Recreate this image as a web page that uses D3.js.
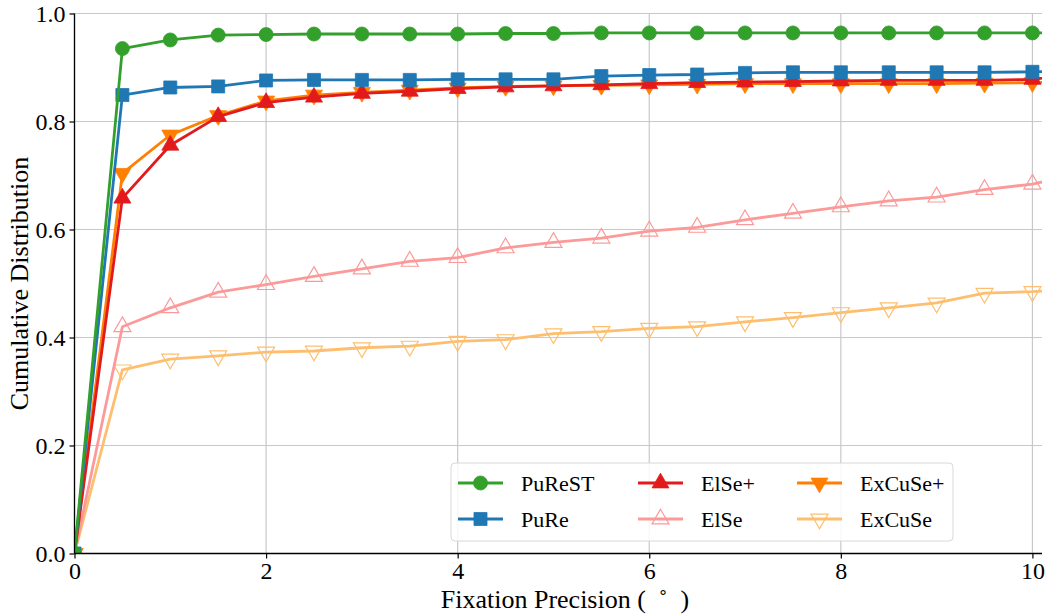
<!DOCTYPE html>
<html>
<head>
<meta charset="utf-8">
<script src="https://cdn.jsdelivr.net/npm/d3@7"></script>
<style>
  html, body { margin: 0; padding: 0; background: #fff; }
  svg { display: block; font-family: "Liberation Serif", "Times New Roman", serif; }
</style>
</head>
<body>
<svg id="chart" width="1048" height="614"></svg>
<script>
// ---- data ----
const xValues = [0, 0.5, 1, 1.5, 2, 2.5, 3, 3.5, 4, 4.5, 5, 5.5, 6, 6.5, 7, 7.5, 8, 8.5, 9, 9.5, 10, 10.5];
const purestValues = [0, 0.935, 0.951, 0.960, 0.961, 0.962, 0.962, 0.962, 0.962, 0.963, 0.963, 0.964, 0.964, 0.964, 0.964, 0.964, 0.964, 0.964, 0.964, 0.964, 0.964, 0.964];
const pureValues = [0, 0.849, 0.863, 0.865, 0.876, 0.877, 0.877, 0.877, 0.878, 0.878, 0.878, 0.884, 0.886, 0.887, 0.890, 0.891, 0.891, 0.891, 0.891, 0.891, 0.892, 0.893];
const elsePlusValues = [0, 0.658, 0.756, 0.809, 0.835, 0.845, 0.852, 0.856, 0.861, 0.864, 0.866, 0.868, 0.870, 0.872, 0.873, 0.874, 0.875, 0.876, 0.876, 0.876, 0.878, 0.890];
const elseValues = [0, 0.420, 0.455, 0.484, 0.498, 0.513, 0.527, 0.541, 0.548, 0.566, 0.576, 0.584, 0.597, 0.604, 0.618, 0.630, 0.642, 0.653, 0.660, 0.674, 0.684, 0.704];
const excusePlusValues = [0, 0.704, 0.775, 0.811, 0.838, 0.849, 0.854, 0.858, 0.862, 0.865, 0.866, 0.867, 0.868, 0.869, 0.870, 0.870, 0.870, 0.870, 0.870, 0.871, 0.872, 0.875];
const excuseValues = [0, 0.340, 0.360, 0.366, 0.373, 0.375, 0.381, 0.384, 0.393, 0.396, 0.407, 0.411, 0.417, 0.420, 0.429, 0.437, 0.446, 0.455, 0.464, 0.482, 0.485, 0.490];
const xTicks = [0, 2, 4, 6, 8, 10];
const yTicks = [0.0, 0.2, 0.4, 0.6, 0.8, 1.0];
const xLabel = "Fixation Precision (\u2002\u02DA\u2002)";
const yLabel = "Cumulative Distribution";

// series definitions (legend order)
const series = [
  { name: "PuReST", values: purestValues, color: "#33a02c", symbol: "circle", filled: true },
  { name: "PuRe", values: pureValues, color: "#1f78b4", symbol: "square", filled: true },
  { name: "ElSe+", values: elsePlusValues, color: "#e31a1c", symbol: "up", filled: true },
  { name: "ElSe", values: elseValues, color: "#fb9a99", symbol: "up", filled: false },
  { name: "ExCuSe+", values: excusePlusValues, color: "#ff7f00", symbol: "down", filled: true },
  { name: "ExCuSe", values: excuseValues, color: "#fdbf6f", symbol: "down", filled: false }
];
const drawOrder = ["ExCuSe", "ElSe", "ExCuSe+", "ElSe+", "PuRe", "PuReST"];

// ---- layout ----
const svg = d3.select("#chart");
const x = d3.scaleLinear().domain([0, 10.1]).range([74.5, 1042]);
const y = d3.scaleLinear().domain([0, 1]).range([553.5, 13.5]);
const TICK_FONT = 24;
const LABEL_FONT = 26;
const LEGEND_FONT = 22;

// grid
const grid = svg.append("g").attr("class", "grid");
grid.selectAll("line.gx").data(xTicks).enter().append("line")
  .attr("x1", d => x(d)).attr("x2", d => x(d))
  .attr("y1", y(0)).attr("y2", y(1))
  .attr("stroke", "#c8c8c8").attr("stroke-width", 1.2);
grid.selectAll("line.gy").data(yTicks).enter().append("line")
  .attr("x1", x(0)).attr("x2", x(10.1))
  .attr("y1", d => y(d)).attr("y2", d => y(d))
  .attr("stroke", "#c8c8c8").attr("stroke-width", 1.2);

// clip
svg.append("clipPath").attr("id", "plotclip").append("rect")
  .attr("x", x(0)).attr("y", y(1) - 12)
  .attr("width", x(10.1) - x(0)).attr("height", y(0) - y(1) + 12);

function symbolPath(kind, size) {
  if (kind === "circle") return d3.symbol(d3.symbolCircle, size)();
  if (kind === "square") return d3.symbol(d3.symbolSquare, size)();
  return d3.symbol(d3.symbolTriangle, size)();
}
const symSize = { circle: 155, square: 170, up: 125, down: 125 };

const plot = svg.append("g").attr("clip-path", "url(#plotclip)");
const line = d3.line().x((d, i) => x(xValues[i])).y(d => y(d));

drawOrder.forEach(nm => {
  const s = series.find(t => t.name === nm);
  const g = plot.append("g");
  g.append("path").datum(s.values)
    .attr("d", line)
    .attr("fill", "none")
    .attr("stroke", s.color)
    .attr("stroke-width", 2.8)
    .attr("stroke-linejoin", "round");
  g.selectAll("path.m").data(s.values).enter().append("path")
    .attr("class", "m")
    .attr("d", symbolPath(s.symbol, symSize[s.symbol]))
    .attr("transform", (d, i) => `translate(${x(xValues[i])},${y(d)})` + (s.symbol === "down" ? " rotate(180)" : ""))
    .attr("fill", s.filled ? s.color : "none")
    .attr("stroke", s.color)
    .attr("stroke-width", s.filled ? 0.8 : 1.2);
});

// spines
svg.append("line").attr("x1", x(0)).attr("x2", x(0)).attr("y1", y(0)).attr("y2", y(1))
  .attr("stroke", "#000").attr("stroke-width", 1.3);
svg.append("line").attr("x1", x(0)).attr("x2", x(10.1)).attr("y1", y(0)).attr("y2", y(0))
  .attr("stroke", "#000").attr("stroke-width", 1.3);

// axes
const xAxis = d3.axisBottom(x).tickValues(xTicks).tickFormat(d3.format("d")).tickSize(5).tickPadding(3);
const gx = svg.append("g").attr("transform", `translate(0,${y(0)})`).call(xAxis);
gx.select(".domain").remove();
gx.selectAll("text").attr("font-size", TICK_FONT).attr("fill", "#000").attr("font-family", "Liberation Serif");
gx.selectAll("line").attr("stroke", "#000").attr("stroke-width", 1.2);

const yAxis = d3.axisLeft(y).tickValues(yTicks).tickFormat(d3.format(".1f")).tickSize(5).tickPadding(4);
const gy = svg.append("g").attr("transform", `translate(${x(0)},0)`).call(yAxis);
gy.select(".domain").remove();
gy.selectAll("text").attr("font-size", TICK_FONT).attr("fill", "#000").attr("font-family", "Liberation Serif");
gy.selectAll("line").attr("stroke", "#000").attr("stroke-width", 1.2);

// axis labels
svg.append("text").attr("x", 565).attr("y", 608).attr("text-anchor", "middle")
  .attr("font-size", LABEL_FONT).text(xLabel);
svg.append("text").attr("transform", `translate(28,${(y(0) + y(1)) / 2}) rotate(-90)`)
  .attr("text-anchor", "middle").attr("font-size", LABEL_FONT).text(yLabel);

// legend
const legend = svg.append("g");
legend.append("rect").attr("x", 451).attr("y", 463).attr("width", 502).attr("height", 78)
  .attr("rx", 4).attr("fill", "#fff").attr("fill-opacity", 0.85)
  .attr("stroke", "#d8d8d8").attr("stroke-width", 1);
const colX = [458, 638, 797];
const rowY = [483, 519];
series.forEach((s, i) => {
  const c = Math.floor(i / 2), r = i % 2;
  const lx = colX[c], ly = rowY[r];
  legend.append("line").attr("x1", lx).attr("x2", lx + 45).attr("y1", ly).attr("y2", ly)
    .attr("stroke", s.color).attr("stroke-width", 2.8);
  legend.append("path")
    .attr("d", symbolPath(s.symbol, symSize[s.symbol]))
    .attr("transform", `translate(${lx + 22.5},${ly})` + (s.symbol === "down" ? " rotate(180)" : ""))
    .attr("fill", s.filled ? s.color : "none")
    .attr("stroke", s.color).attr("stroke-width", s.filled ? 0.8 : 1.2);
  legend.append("text").attr("x", lx + 63).attr("y", ly + 7.5)
    .attr("font-size", LEGEND_FONT).text(s.name);
});
</script>
</body>
</html>
